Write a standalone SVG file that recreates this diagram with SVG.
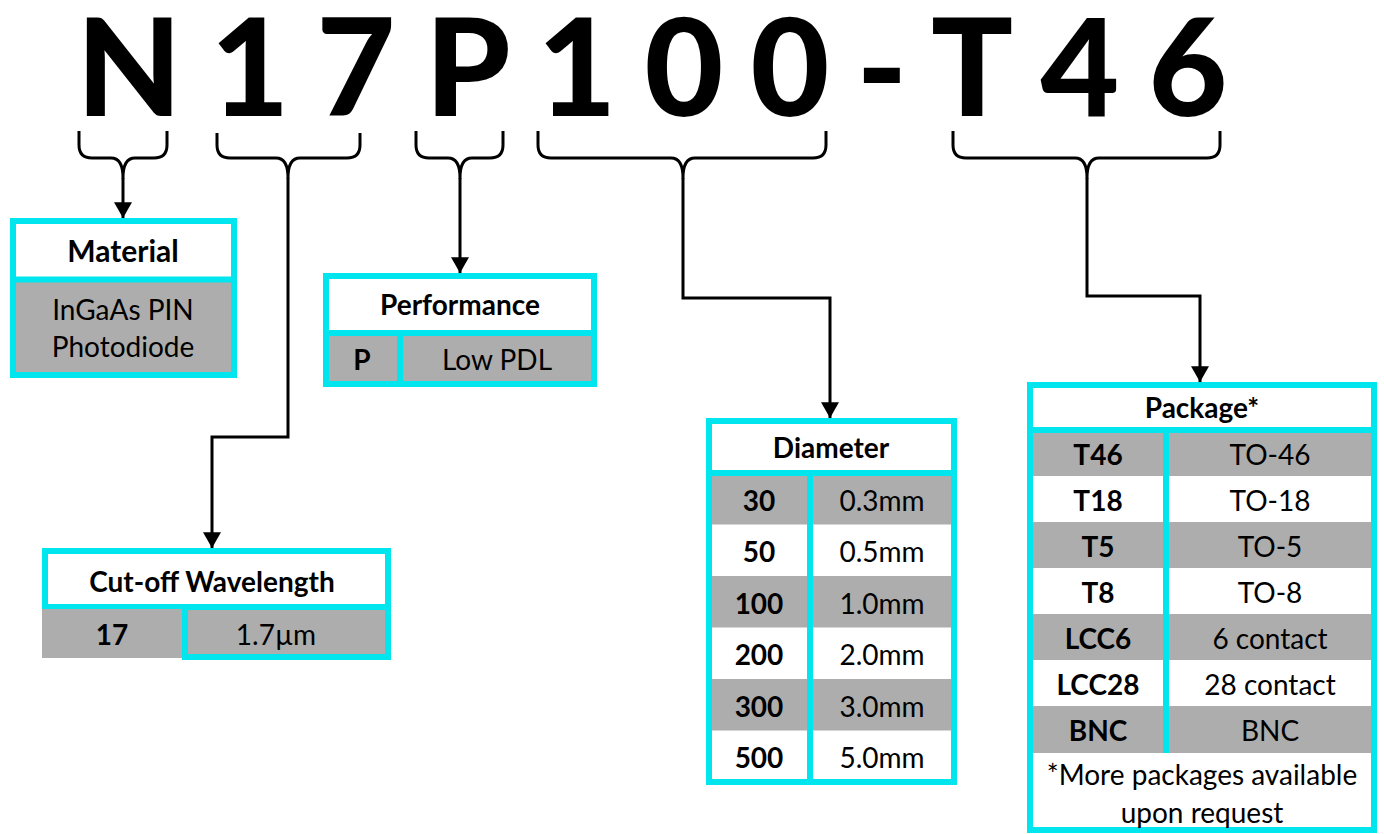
<svg xmlns="http://www.w3.org/2000/svg" width="1384" height="834" viewBox="0 0 1384 834">
<style>
text{font-family:Lato,"Liberation Sans",sans-serif;fill:#000;text-anchor:middle}
.big{font-size:136px;font-weight:900}
.hd{font-size:28px;font-weight:bold}
.tb{font-size:28px;font-weight:bold}
.t{font-size:28px}
.w{fill:#fff}
.g{fill:#adadad}
.cy{fill:none;stroke:#00e5ee;stroke-width:6}
.br{fill:none;stroke:#000;stroke-width:3;stroke-linejoin:round}
.cn{fill:none;stroke:#000;stroke-width:3;marker-end:url(#ah)}
</style>
<defs>
<marker id="ah" markerUnits="userSpaceOnUse" markerWidth="16" markerHeight="18" viewBox="0 -8 14 16" refX="14" refY="0" orient="auto">
<path d="M0,-8 L14,0 L0,8 z" fill="#000"/>
</marker>
</defs>
<rect width="1384" height="834" fill="#fff"/>
<g id="code">
<text class="big" x="129" y="116">N</text>
<text class="big" x="250" y="116">1</text>
<text class="big" x="356" y="116">7</text>
<text class="big" x="468" y="116">P</text>
<text class="big" x="577" y="116">1</text>
<text class="big" x="684" y="116">0</text>
<text class="big" x="790" y="116">0</text>
<text class="big" x="882" y="116">-</text>
<text class="big" x="972" y="116">T</text>
<text class="big" x="1080" y="116">4</text>
<text class="big" x="1188" y="116">6</text>
</g>
<g id="connectors">
<path class="br" d="M79,131 V145 Q79,158 92,158 H111 Q123,158 123,178 Q123,158 135,158 H154 Q167,158 167,145 V131"/>
<path class="br" d="M217,133 V145 Q217,158 230,158 H276 Q288,158 288,178 Q288,158 300,158 H347 Q360,158 360,145 V133"/>
<path class="br" d="M416,131 V145 Q416,158 429,158 H448 Q460,158 460,178 Q460,158 472,158 H490 Q503,158 503,145 V131"/>
<path class="br" d="M538,131 V145 Q538,158 551,158 H671 Q683,158 683,178 Q683,158 695,158 H813 Q826,158 826,145 V131"/>
<path class="br" d="M953,131 V145 Q953,158 966,158 H1075 Q1087,158 1087,178 Q1087,158 1099,158 H1207 Q1220,158 1220,145 V131"/>
<path class="cn" d="M123,178 V218"/>
<path class="cn" d="M288,178 V437 H212 V548"/>
<path class="cn" d="M460,178 V273"/>
<path class="cn" d="M683,178 V298 H830 V418"/>
<path class="cn" d="M1087,178 V296 H1200 V382"/>
</g>
<g id="material">
<rect class="w" x="10" y="218" width="227" height="62"/>
<rect class="g" x="10" y="279" width="227" height="99"/>
<rect class="cy" x="13" y="221" width="221" height="154"/>
<line class="cy" x1="10" y1="279.5" x2="237" y2="279.5"/>
<text class="hd" x="123" y="262" style="font-size:30px">Material</text>
<text class="t" x="123" y="320">InGaAs PIN</text>
<text class="t" x="123" y="357">Photodiode</text>
</g>
<g id="performance">
<rect class="w" x="323" y="273" width="274" height="60"/>
<rect class="g" x="323" y="333" width="274" height="54"/>
<rect class="cy" x="326" y="276" width="268" height="108"/>
<line class="cy" x1="323" y1="333" x2="597" y2="333"/>
<line class="cy" x1="400" y1="333" x2="400" y2="387"/>
<text class="hd" x="460" y="315">Performance</text>
<text class="tb" x="362" y="370">P</text>
<text class="t" x="497" y="370">Low PDL</text>
</g>
<g id="cutoff">
<rect class="w" x="45" y="551" width="343" height="56"/>
<rect class="cy" x="45" y="551" width="343" height="56"/>
<rect class="g" x="185" y="607" width="203" height="50"/>
<rect class="cy" x="185" y="607" width="203" height="50"/>
<rect class="g" x="42" y="609" width="140" height="49"/>
<text class="hd" x="212" y="592">Cut-off Wavelength</text>
<text class="tb" x="112" y="645">17</text>
<text class="t" x="276" y="645">1.7µm</text>
</g>
<g id="diameter">
<rect class="w" x="706" y="418" width="251" height="367"/>
<rect class="g" x="706" y="473" width="251" height="51.5"/>
<rect class="g" x="706" y="576" width="251" height="51.5"/>
<rect class="g" x="706" y="679" width="251" height="51.5"/>
<rect class="cy" x="709" y="421" width="245" height="361"/>
<line class="cy" x1="706" y1="473" x2="957" y2="473"/>
<line class="cy" x1="810" y1="473" x2="810" y2="782"/>
<text class="hd" x="831" y="458">Diameter</text>
<text class="tb" x="759" y="511">30</text><text class="t" x="882" y="511">0.3mm</text>
<text class="tb" x="759" y="562">50</text><text class="t" x="882" y="562">0.5mm</text>
<text class="tb" x="759" y="614">100</text><text class="t" x="882" y="614">1.0mm</text>
<text class="tb" x="759" y="665">200</text><text class="t" x="882" y="665">2.0mm</text>
<text class="tb" x="759" y="717">300</text><text class="t" x="882" y="717">3.0mm</text>
<text class="tb" x="759" y="768">500</text><text class="t" x="882" y="768">5.0mm</text>
</g>
<g id="package">
<rect class="w" x="1027" y="382" width="350" height="451"/>
<rect class="g" x="1027" y="430" width="350" height="46"/>
<rect class="g" x="1027" y="522" width="350" height="46"/>
<rect class="g" x="1027" y="614" width="350" height="46"/>
<rect class="g" x="1027" y="706" width="350" height="47"/>
<rect class="cy" x="1030" y="385" width="344" height="445"/>
<line class="cy" x1="1027" y1="430" x2="1377" y2="430"/>
<line class="cy" x1="1166" y1="430" x2="1166" y2="753"/>
<text class="hd" x="1202" y="418">Package*</text>
<text class="tb" x="1098" y="465">T46</text><text class="t" x="1270" y="465">TO-46</text>
<text class="tb" x="1098" y="511">T18</text><text class="t" x="1270" y="511">TO-18</text>
<text class="tb" x="1098" y="557">T5</text><text class="t" x="1270" y="557">TO-5</text>
<text class="tb" x="1098" y="603">T8</text><text class="t" x="1270" y="603">TO-8</text>
<text class="tb" x="1098" y="649">LCC6</text><text class="t" x="1270" y="649">6 contact</text>
<text class="tb" x="1098" y="695">LCC28</text><text class="t" x="1270" y="695">28 contact</text>
<text class="tb" x="1098" y="741">BNC</text><text class="t" x="1270" y="741">BNC</text>
<text class="t" x="1202" y="785">*More packages available</text>
<text class="t" x="1202" y="823">upon request</text>
</g>
</svg>
